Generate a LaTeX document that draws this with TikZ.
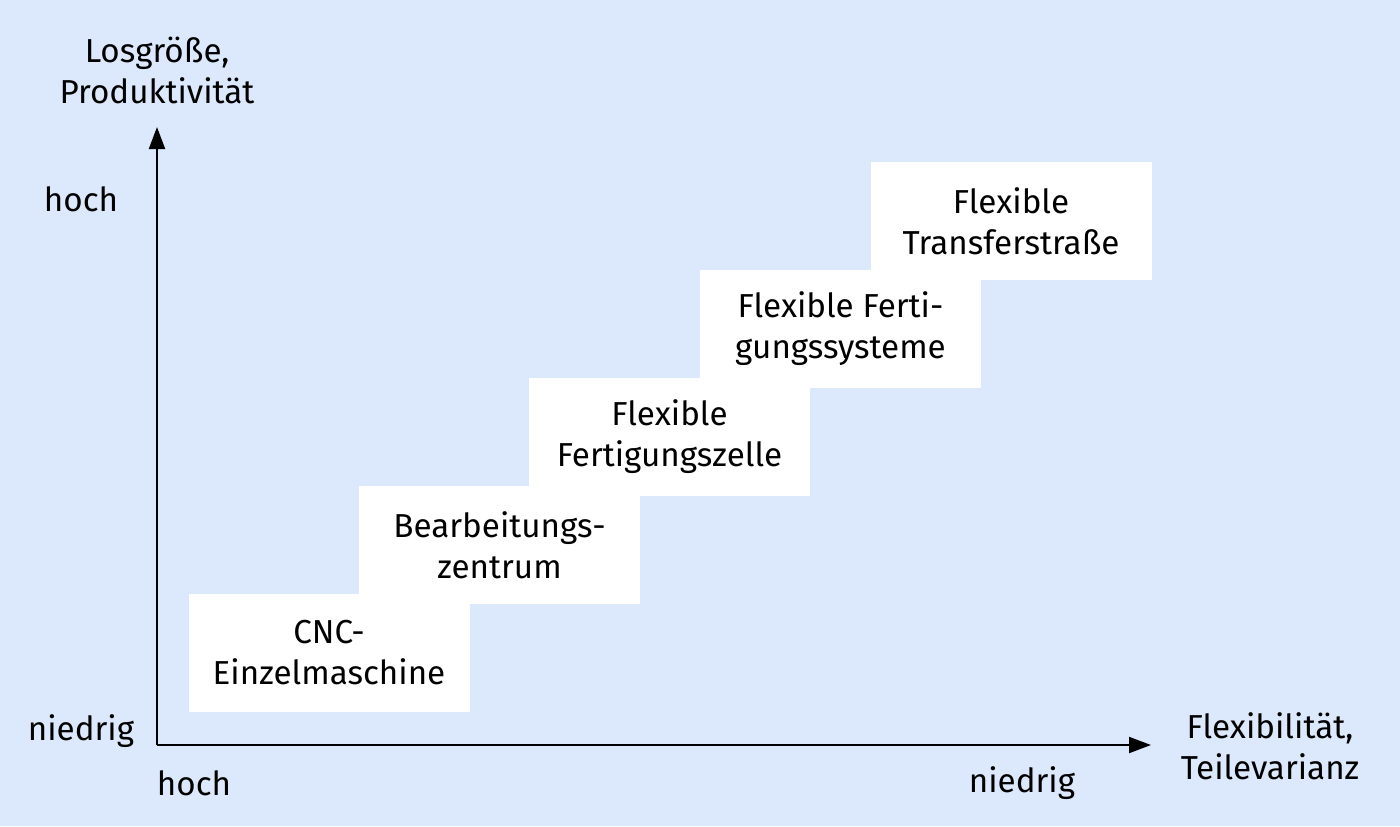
\documentclass[tikz,border=0pt]{standalone}
\usepackage{fontspec}
\setmainfont{Fira Sans}
\usetikzlibrary{arrows.meta}
\definecolor{bgblue}{RGB}{220,232,252}
\begin{document}
\begin{tikzpicture}[x=0.5pt,y=-0.5pt,
  every node/.style={font=\fontsize{16.6}{20.5}\selectfont, inner sep=0pt, align=center},
  stepbox/.style={fill=white, draw=none, minimum width=140.5pt, minimum height=59pt},
  axis/.style={line width=1pt, -{Triangle[length=11pt,width=8pt]}}]
\fill[bgblue] (0,0) rectangle (1400,826);
\useasboundingbox (0,0) rectangle (1400,826);
\node[stepbox] (b1) at (329,653) {CNC-\\Einzelmaschine};
\node[stepbox] (b2) at (499.5,545) {Bearbeitungs-\\zentrum};
\node[stepbox] (b3) at (669.5,437) {Flexible\\Fertigungszelle};
\node[stepbox] (b4) at (840.5,329) {Flexible Ferti-\\gungssysteme};
\node[stepbox] (b5) at (1011,221) {Flexible\\Transferstraße};
\coordinate (o) at (157,745);
\coordinate (ytip) at (157,127);
\coordinate (xtip) at (1151,745);
\draw[axis] (o) -- (ytip);
\draw[axis] (o) -- (xtip);
\node (ylab) at (157,70) {Losgröße,\\Produktivität};
\node (yhi) at (81,199) {hoch};
\node (ylo) at (81,731) {niedrig};
\node (xhi) at (194,783) {hoch};
\node (xlo) at (1022,783) {niedrig};
\node (xlab) at (1270,746) {Flexibilität,\\Teilevarianz};
\end{tikzpicture}
\end{document}
